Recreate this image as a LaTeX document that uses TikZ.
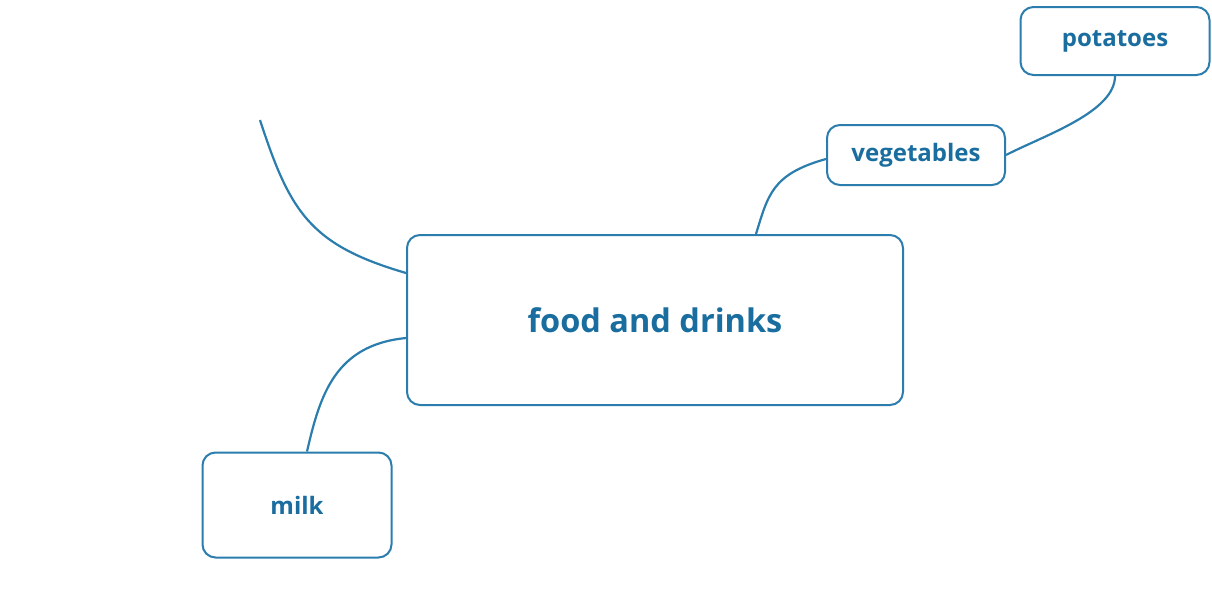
\documentclass[tikz,border=0pt]{standalone}
\usepackage{fontspec}
\setmainfont{Open Sans}
\usepackage{xcolor}
\definecolor{mapline}{HTML}{2A7DAD}
\definecolor{maptext}{HTML}{1A6E9F}

\begin{document}
\begin{tikzpicture}[x=1pt,y=-1pt,
        topic/.style={draw=mapline, line width=2pt, rounded corners=13pt, inner sep=0pt,
                      text=maptext, font=\bfseries, fill=white},
        link/.style={draw=mapline, line width=2.2pt}]
        \def\big{\fontsize{32.5}{36}\selectfont}
        \def\small{\fontsize{24}{28}\selectfont}

        \useasboundingbox (0,0) rectangle (1212,590);

        \node[topic, minimum width=496pt, minimum height=170pt, font=\bfseries\big] (food) at (655,320) {food and drinks};
        \node[topic, minimum width=178pt, minimum height=60pt, font=\bfseries\small] (veg) at (916,155) {vegetables};
        \node[topic, minimum width=189pt, minimum height=68pt, font=\bfseries\small] (pot) at (1115,41) {potatoes};
        \node[topic, minimum width=189pt, minimum height=105pt, font=\bfseries\small] (milk) at (297,505) {milk};
        \coordinate (loose) at (260,120);

        \draw[link] (food.north east) ++(-148pt,0) .. controls (768,195) and (772,174) .. ([yshift=-4pt]veg.west);
        \draw[link] (veg.east) .. controls (1045,135) and (1115,112) .. (pot.south);
        \draw[link] (milk.north) ++(10pt,0) .. controls (320,395) and (335,345) .. ([yshift=-18pt]food.west);
        \draw[link] (loose) .. controls (290,212) and (310,245) .. ([yshift=47pt]food.west);
\end{tikzpicture}
\end{document}
